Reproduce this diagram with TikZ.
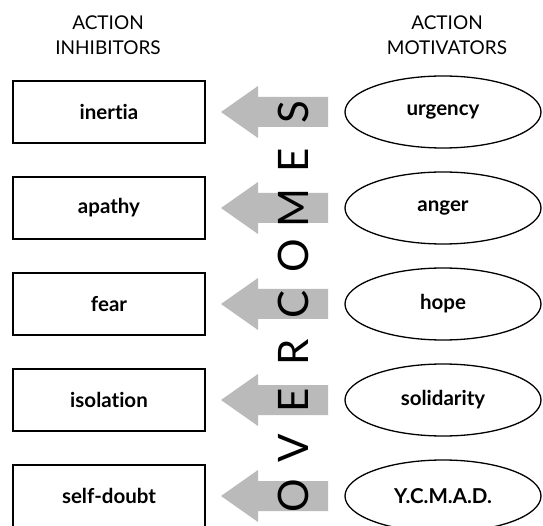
\documentclass[tikz,border=0pt]{standalone}
\usepackage{fontspec}
\setmainfont[Ligatures={NoCommon}]{Lato}
\usetikzlibrary{shapes.geometric}
\begin{document}
\begin{tikzpicture}[x=1pt,y=-1pt,
  inhib/.style={draw,line width=1.3pt,minimum width=192pt,minimum height=62pt,inner sep=0pt,font=\bfseries\fontsize{20.5}{24}\selectfont},
  motiv/.style={draw,ellipse,line width=1.3pt,minimum width=196pt,minimum height=72pt,inner sep=0pt,font=\bfseries\fontsize{20.5}{24}\selectfont},
  heading/.style={align=center,font=\fontsize{19}{25.5}\selectfont},
  bigletter/.style={rotate=90,inner sep=0pt,font=\fontsize{42}{42}\selectfont},
  arrowfill/.style={fill=black!27}]
\useasboundingbox (0,0) rectangle (543,526);
\node[heading] (h1) at (108,35) {ACTION\\INHIBITORS};
\node[heading] (h2) at (447,35) {ACTION\\MOTIVATORS};
\foreach \y/\a/\b [count=\i] in {112/inertia/urgency,208/apathy/anger,304/fear/hope,400/isolation/solidarity,496/self-doubt/Y.C.M.A.D.} {
  \node[inhib] (b\i) at (109,\y) {\a};
  \node[motiv] (e\i) at (443,\y) {\b};
  \fill[arrowfill] (221,\y) -- (258,{\y-26}) -- (258,{\y-15}) -- (328,{\y-15}) -- (328,{\y+15}) -- (258,{\y+15}) -- (258,{\y+26}) -- cycle;
}
\foreach \l/\y [count=\k] in {S/112,E/160,M/208,O/256,C/304,R/352,E/400,V/448,O/496} {
  \node[bigletter] (L\k) at (293,\y) {\l};
}
\end{tikzpicture}
\end{document}
